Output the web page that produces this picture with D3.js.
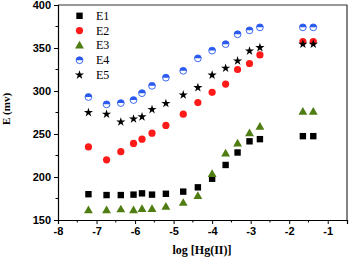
<!DOCTYPE html>
<html>
<head>
<meta charset="utf-8">
<script src="https://cdn.jsdelivr.net/npm/d3@7"></script>
<style>
  body { margin: 0; background: #fff; }
  svg { display: block; }
</style>
</head>
<body>
<div id="chart"></div>
<script>
// log [Hg(II)] values shared by all series
var logHg = [-7.21, -6.74, -6.37, -6.04, -5.82, -5.56, -5.2, -4.75, -4.37, -4.0, -3.65, -3.34, -3.03, -2.76, -1.645, -1.375];

var e1 = [180, 179, 179, 179.5, 181, 179.5, 180.5, 183, 188, 198, 214, 228.5, 241.5, 244, 247.5, 247.5];
var e2 = [235, 220, 229.5, 239, 244, 251, 260, 273, 286.5, 298.5, 308, 325, 332, 342, 357.5, 357.5];
var e3 = [161.5, 161.5, 162.5, 161.5, 163, 163, 165.5, 170, 178, 203.5, 227.5, 239, 251, 258.5, 276, 276];
var e4 = [293, 284.5, 286, 289.5, 297.5, 306, 315.5, 323.5, 338, 347, 354.5, 366, 370.5, 374, 374, 374];
var e5 = [275, 273, 264, 267.5, 270, 278.5, 285.5, 295.5, 304, 318.5, 326.5, 335, 346.5, 350.5, 354.5, 354.5];

var seriesNames = ["E1", "E2", "E3", "E4", "E5"];
var xTicks = [-8, -7, -6, -5, -4, -3, -2, -1];
var yTicks = [150, 200, 250, 300, 350, 400];

var width = 349, height = 259;
var x = d3.scaleLinear().domain([-8, -0.5]).range([58, 347]);
var y = d3.scaleLinear().domain([150, 400]).range([220, 5]);

var svg = d3.select("#chart").append("svg")
    .attr("width", width)
    .attr("height", height);

// frame (top and right)
svg.append("path")
    .attr("d", "M" + x(-8) + "," + y(400) + "H" + x(-0.5) + "V" + y(150))
    .attr("fill", "none")
    .attr("stroke", "#333")
    .attr("stroke-width", 1.2);

// minor ticks
var xMinor = d3.range(-7.5, -0.5, 1);
var yMinor = d3.range(175, 400, 50);

svg.append("g").selectAll("line").data(xMinor).enter().append("line")
    .attr("x1", function(d) { return x(d); })
    .attr("x2", function(d) { return x(d); })
    .attr("y1", y(150)).attr("y2", y(150) + 2.5)
    .attr("stroke", "#000");
svg.append("g").selectAll("line").data(yMinor).enter().append("line")
    .attr("y1", function(d) { return y(d); })
    .attr("y2", function(d) { return y(d); })
    .attr("x1", x(-8)).attr("x2", x(-8) - 2.5)
    .attr("stroke", "#000");

var xAxis = d3.axisBottom(x).tickValues(xTicks).tickSize(4).tickPadding(3)
    .tickFormat(function(d) { return "-" + Math.abs(d); });
var yAxis = d3.axisLeft(y).tickValues(yTicks).tickSize(4).tickPadding(3);

var gx = svg.append("g")
    .attr("transform", "translate(0," + y(150) + ")")
    .call(xAxis);
var gy = svg.append("g")
    .attr("transform", "translate(" + x(-8) + ",0)")
    .call(yAxis);

[gx, gy].forEach(function(g) {
    g.select(".domain").attr("stroke", "#000").attr("stroke-width", 1.2);
    g.selectAll(".tick line").attr("stroke", "#000");
    g.selectAll(".tick text")
        .attr("font-family", "Liberation Sans, Arial, sans-serif")
        .attr("font-weight", "bold")
        .attr("font-size", 11)
        .attr("fill", "#000");
});

// axis titles
svg.append("text")
    .attr("x", 202).attr("y", 254)
    .attr("text-anchor", "middle")
    .attr("font-family", "Liberation Serif, Times New Roman, serif")
    .attr("font-weight", "bold")
    .attr("font-size", 12)
    .text("log [Hg(II)]");
svg.append("text")
    .attr("transform", "translate(10,109) rotate(-90)")
    .attr("text-anchor", "middle")
    .attr("font-family", "Liberation Serif, Times New Roman, serif")
    .attr("font-weight", "bold")
    .attr("font-size", 11)
    .text("E (mv)");

// marker drawers
var green = "#4f7d12", red = "#ff1a1a", blue = "#2a5af0";

function drawSquare(g, cx, cy) {
    g.append("rect")
        .attr("x", cx - 3.2).attr("y", cy - 3.2)
        .attr("width", 6.4).attr("height", 6.4)
        .attr("fill", "#000");
}
function drawCircle(g, cx, cy) {
    g.append("circle").attr("cx", cx).attr("cy", cy).attr("r", 3.6).attr("fill", red);
}
function drawTriangle(g, cx, cy) {
    g.append("path")
        .attr("d", d3.symbol().type(d3.symbolTriangle).size(34)())
        .attr("transform", "translate(" + cx + "," + (cy + 0.5) + ")")
        .attr("fill", green);
}
function drawHalf(g, cx, cy) {
    var r = 3.4;
    g.append("circle").attr("cx", cx).attr("cy", cy).attr("r", r).attr("fill", "#fff");
    g.append("path")
        .attr("d", "M" + (cx - r) + "," + cy + "A" + r + "," + r + " 0 0 1 " + (cx + r) + "," + cy + "Z")
        .attr("fill", blue);
    g.append("circle").attr("cx", cx).attr("cy", cy).attr("r", r)
        .attr("fill", "none").attr("stroke", blue).attr("stroke-width", 0.9);
}
function drawStar(g, cx, cy) {
    g.append("path")
        .attr("d", d3.symbol().type(d3.symbolStar).size(26)())
        .attr("transform", "translate(" + cx + "," + cy + ")")
        .attr("fill", "#000");
}

var drawers = [drawSquare, drawCircle, drawTriangle, drawHalf, drawStar];
var allSeries = [e1, e2, e3, e4, e5];

// draw order: E1, E2, E3, E4, E5
allSeries.forEach(function(vals, si) {
    var g = svg.append("g");
    vals.forEach(function(v, i) {
        drawers[si](g, x(logHg[i]), y(v));
    });
});

// legend
var legend = svg.append("g");
seriesNames.forEach(function(name, i) {
    var ly = 15.8 + i * 14.8;
    drawers[i](legend, 79.5, ly);
    legend.append("text")
        .attr("x", 96).attr("y", ly + 4)
        .attr("font-family", "Liberation Serif, Times New Roman, serif")
        .attr("font-size", 12)
        .text(name);
});
</script>
</body>
</html>
